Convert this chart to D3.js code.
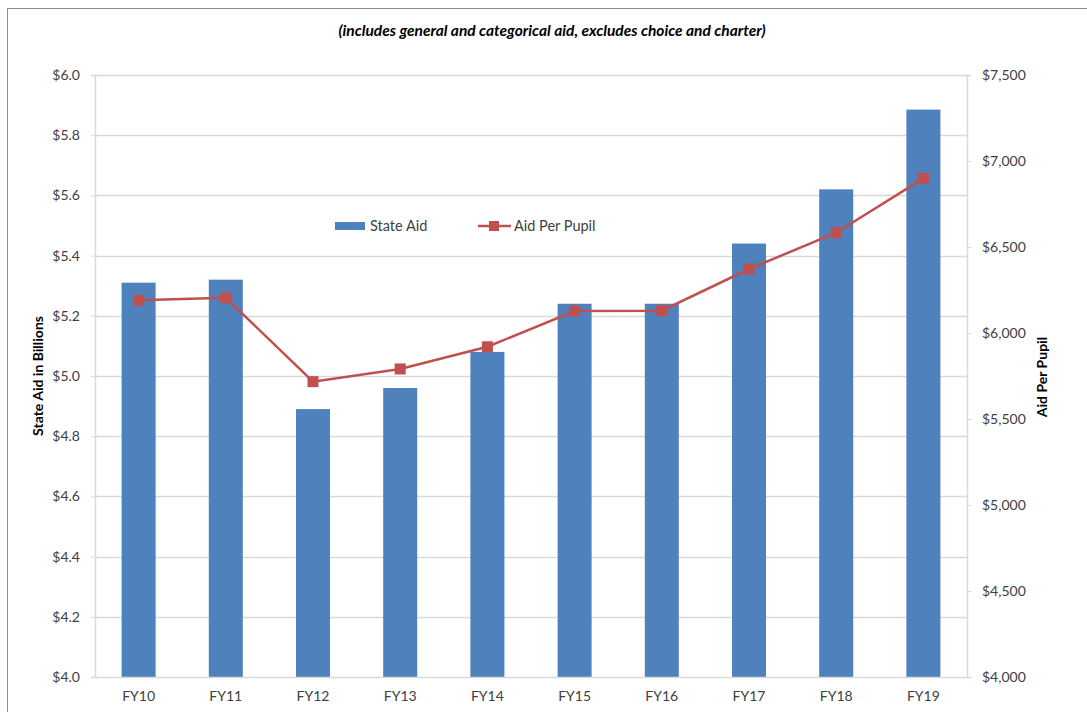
<!DOCTYPE html>
<html lang="en">
<head>
  <meta charset="UTF-8">
  <title>State aid and aid per pupil</title>
  <style>
    body, html {
        margin: 0;
        padding: 0;
        background-color: #FFF;
    }
    svg text {
        font-family: Lato, "Open Sans", sans-serif;
        fill: #404040;
    }
  </style>
</head>
<body>
<svg id="chart" width="1087" height="712"></svg>

<script src="https://cdn.jsdelivr.net/npm/d3@7"></script>
<script>
/* global d3 */
var years = ["FY10", "FY11", "FY12", "FY13", "FY14", "FY15", "FY16", "FY17", "FY18", "FY19"];
var stateAid = [5.31, 5.32, 4.89, 4.96, 5.08, 5.24, 5.24, 5.44, 5.62, 5.885];
var aidPerPupil = [6190, 6205, 5717, 5791, 5920, 6128, 6130, 6372, 6583, 6899];
var leftTicks = [4.0, 4.2, 4.4, 4.6, 4.8, 5.0, 5.2, 5.4, 5.6, 5.8, 6.0];
var rightTicks = [4000, 4500, 5000, 5500, 6000, 6500, 7000, 7500];

var svg = d3.select("#chart"),
    plotLeft = 95, plotRight = 967, plotTop = 75, plotBottom = 677,
    blue = "#4F81BD",
    red = "#C0504D",
    grid = "#D9D9D9";

// outer frame
svg.append("rect")
    .attr("x", 7.5).attr("y", 8.5)
    .attr("width", 1100).attr("height", 720)
    .attr("fill", "none").attr("stroke", "#8C8C8C");

var x = d3.scaleBand().domain(years).range([plotLeft, plotRight]).paddingInner(0.61).paddingOuter(0.305);
var yL = d3.scaleLinear().domain([4, 6]).range([plotBottom, plotTop]);
var yR = d3.scaleLinear().domain([4000, 7500]).range([plotBottom, plotTop]);

// gridlines
svg.append("g").selectAll("line").data(leftTicks.slice(1)).join("line")
    .attr("x1", plotLeft).attr("x2", plotRight)
    .attr("y1", function (d) { return Math.round(yL(d)) + 0.5; })
    .attr("y2", function (d) { return Math.round(yL(d)) + 0.5; })
    .attr("stroke", grid).attr("stroke-width", 1.5);

// left axis
var axL = svg.append("g").attr("transform", "translate(" + plotLeft + ",0)")
    .call(d3.axisLeft(yL).tickValues(leftTicks).tickSize(4).tickPadding(11)
        .tickFormat(function (d) { return "$" + d3.format(".1f")(d); }));
axL.select(".domain").attr("stroke", grid).attr("stroke-width", 1.5);
axL.selectAll(".tick line").attr("stroke", grid);
axL.selectAll("text").attr("font-size", 14).attr("fill", "#404040").attr("font-family", "Lato");

// right axis
var axR = svg.append("g").attr("transform", "translate(" + plotRight + ",0)")
    .call(d3.axisRight(yR).tickValues(rightTicks).tickSize(4).tickPadding(11)
        .tickFormat(function (d) { return "$" + d3.format(",")(d); }));
axR.select(".domain").attr("stroke", grid).attr("stroke-width", 1.5);
axR.selectAll(".tick line").attr("stroke", grid);
axR.selectAll("text").attr("font-size", 14).attr("fill", "#404040").attr("font-family", "Lato");

// bars
svg.append("g").selectAll("rect").data(years).join("rect")
    .attr("x", function (d) { return x(d); })
    .attr("width", x.bandwidth())
    .attr("y", function (d, i) { return yL(stateAid[i]); })
    .attr("height", function (d, i) { return yL(4) - yL(stateAid[i]); })
    .attr("fill", blue);

// bottom axis
var axB = svg.append("g").attr("transform", "translate(0," + plotBottom + ")")
    .call(d3.axisBottom(x).tickSize(0).tickPadding(14));
axB.select(".domain").attr("stroke", grid).attr("stroke-width", 1.5);
axB.selectAll("text").attr("font-size", 14).attr("fill", "#404040").attr("font-family", "Lato");

// line
var line = d3.line()
    .x(function (d, i) { return x(years[i]) + x.bandwidth() / 2; })
    .y(function (d) { return yR(d); });
svg.append("path").datum(aidPerPupil)
    .attr("d", line)
    .attr("fill", "none").attr("stroke", red).attr("stroke-width", 2.5);
svg.append("g").selectAll("rect").data(aidPerPupil).join("rect")
    .attr("x", function (d, i) { return x(years[i]) + x.bandwidth() / 2 - 5.5; })
    .attr("y", function (d) { return yR(d) - 5.5; })
    .attr("width", 11).attr("height", 11)
    .attr("fill", red);

// title
svg.append("text")
    .attr("x", 552).attr("y", 36)
    .attr("text-anchor", "middle")
    .attr("font-size", 15.5).attr("font-style", "italic").attr("font-weight", "bold")
    .style("fill", "#000")
    .text("(includes general and categorical aid, excludes choice and charter)");

// axis titles
svg.append("text")
    .attr("transform", "translate(43,376) rotate(-90)")
    .attr("text-anchor", "middle")
    .attr("font-size", 14).attr("font-weight", "bold")
    .style("fill", "#000")
    .text("State Aid in Billions");
svg.append("text")
    .attr("transform", "translate(1047,377) rotate(-90)")
    .attr("text-anchor", "middle")
    .attr("font-size", 14).attr("font-weight", "bold")
    .style("fill", "#000")
    .text("Aid Per Pupil");

// legend
var lg = svg.append("g").attr("transform", "translate(0,226)");
lg.append("rect").attr("x", 335).attr("y", -4).attr("width", 30).attr("height", 8).attr("fill", blue);
lg.append("text").attr("x", 370).attr("y", 5).attr("font-size", 14.5).text("State Aid");
lg.append("line").attr("x1", 478).attr("x2", 511).attr("y1", 0).attr("y2", 0)
    .attr("stroke", red).attr("stroke-width", 2.5);
lg.append("rect").attr("x", 489).attr("y", -5).attr("width", 10).attr("height", 10).attr("fill", red);
lg.append("text").attr("x", 514).attr("y", 5).attr("font-size", 14.5).text("Aid Per Pupil");
</script>
</body>
</html>
